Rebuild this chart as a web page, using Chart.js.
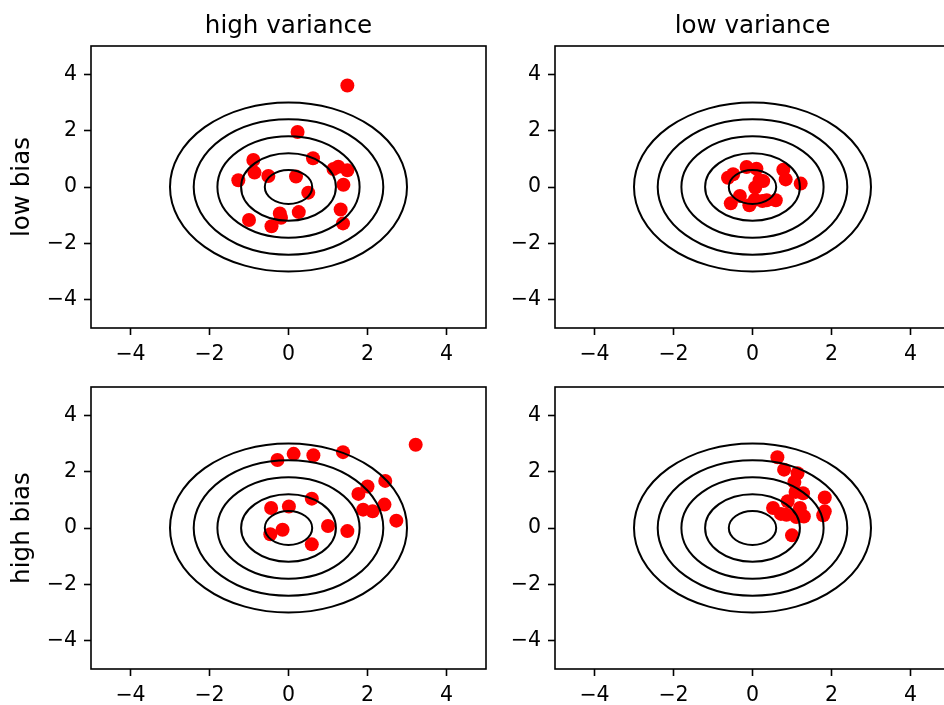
<!DOCTYPE html>
<html>
<head>
<meta charset="utf-8">
<script src="https://cdn.jsdelivr.net/npm/chart.js@4/dist/chart.umd.min.js"></script>
<style>
  html, body { margin: 0; padding: 0; background: #fff; overflow: hidden; }
  body { width: 944px; height: 705px; position: relative; }
  canvas { position: absolute; }
</style>
</head>
<body>
<canvas id="tl"></canvas>
<canvas id="tr"></canvas>
<canvas id="bl"></canvas>
<canvas id="br"></canvas>
<script>
// Data
const COL_TITLES = ['high variance', 'low variance'];
const ROW_LABELS = ['low bias', 'high bias'];
const TICK_VALUES = [-4, -2, 0, 2, 4];
const AXIS_MIN = -5;
const AXIS_MAX = 5;
const RING_RADII = [0.6, 1.2, 1.8, 2.4, 3.0];

// high variance, low bias
const HV_LB_X = [1.49, 0.23, 0.62, -0.89, -0.86, -0.51, -1.27, 0.19, 1.14, 1.26, 1.49, 1.39, 0.50, 0.26, -0.22, -0.19, -1.00, -0.43, 1.32, 1.38];
const HV_LB_Y = [3.60, 1.95, 1.02, 0.96, 0.51, 0.39, 0.24, 0.37, 0.64, 0.72, 0.59, 0.08, -0.20, -0.89, -0.94, -1.09, -1.17, -1.39, -0.80, -1.29];
// low variance, low bias
const LV_LB_X = [-0.49, -0.62, -0.15, 0.10, 0.27, 0.07, 0.78, 0.84, 1.22, -0.32, -0.55, -0.08, 0.25, 0.59, 0.06, 0.18, 0.36];
const LV_LB_Y = [0.45, 0.33, 0.71, 0.65, 0.21, -0.02, 0.61, 0.27, 0.12, -0.32, -0.58, -0.65, -0.50, -0.47, -0.45, 0.24, -0.47];
// high variance, high bias
const HV_HB_X = [3.22, -0.28, 0.13, 0.63, 1.38, 2.45, 2.00, 1.77, 0.59, -0.44, 0.01, 1.89, 2.13, 2.43, 2.73, 1.00, 1.49, -0.15, -0.46, 0.59];
const HV_HB_Y = [2.95, 2.41, 2.63, 2.58, 2.69, 1.67, 1.47, 1.21, 1.04, 0.71, 0.76, 0.65, 0.59, 0.83, 0.26, 0.07, -0.11, -0.06, -0.22, -0.58];
// low variance, high bias
const LV_HB_X = [0.63, 0.80, 1.14, 1.06, 1.28, 1.09, 1.83, 0.89, 0.52, 0.72, 1.20, 1.30, 1.83, 1.79, 1.00, 0.86, 1.11];
const LV_HB_Y = [2.51, 2.07, 1.94, 1.63, 1.23, 1.28, 1.08, 0.95, 0.71, 0.50, 0.71, 0.41, 0.59, 0.45, -0.26, 0.47, 0.39];

// Layout (pixels)
const PLOT_W = 395;
const PLOT_H = 282;
const TICK_FONT = 20.5;
const LABEL_FONT = 24.6;

Chart.defaults.font.family = "'DejaVu Sans', sans-serif";
Chart.defaults.color = '#000';

// rings drawn on top of the points, then the frame
const targetPlugin = {
    id: 'target',
    afterDatasetsDraw(chart) {
        const {ctx, chartArea, scales} = chart;
        const cx = scales.x.getPixelForValue(0);
        const cy = scales.y.getPixelForValue(0);
        ctx.save();
        ctx.beginPath();
        ctx.rect(chartArea.left, chartArea.top, chartArea.right - chartArea.left, chartArea.bottom - chartArea.top);
        ctx.clip();
        ctx.strokeStyle = '#000';
        ctx.lineWidth = 2;
        RING_RADII.forEach(r => {
            const rx = scales.x.getPixelForValue(r) - cx;
            const ry = cy - scales.y.getPixelForValue(r);
            ctx.beginPath();
            ctx.ellipse(cx, cy, rx, ry, 0, 0, Math.PI * 2);
            ctx.stroke();
        });
        ctx.restore();
    },
    afterLayout(chart) {
        // center the title over the plot area, like matplotlib does
        const t = chart.titleBlock;
        if (t) {
            t.left = chart.chartArea.left;
            t.right = chart.chartArea.right;
            t.width = t.right - t.left;
        }
    },
    afterDraw(chart) {
        const {ctx, chartArea} = chart;
        ctx.save();
        ctx.strokeStyle = '#000';
        ctx.lineWidth = 1.6;
        ctx.strokeRect(chartArea.left, chartArea.top, chartArea.right - chartArea.left, chartArea.bottom - chartArea.top);
        ctx.restore();
    }
};

function fixTicks(scale) {
    scale.ticks = TICK_VALUES.map(v => ({value: v}));
}

function makePanel(id, xs, ys, plotLeft, plotTop, title, yLabel) {
    const axisW = yLabel ? 91 : 60;
    const topM = title ? plotTop : 20;
    const rightM = 10;
    const axisH = 40;
    const bottomPad = 5;

    const canvas = document.getElementById(id);
    const w = axisW + PLOT_W + rightM;
    const h = topM + PLOT_H + axisH + bottomPad;
    canvas.width = w;
    canvas.height = h;
    canvas.style.width = w + 'px';
    canvas.style.height = h + 'px';
    canvas.style.left = (plotLeft - axisW) + 'px';
    canvas.style.top = (plotTop - topM) + 'px';

    const tickOpts = {
        font: {size: TICK_FONT},
        padding: 7,
        callback: v => String(v).replace('-', '\u2212')
    };
    const gridOpts = {
        drawOnChartArea: false,
        drawTicks: true,
        tickLength: 7,
        tickWidth: 1.6,
        tickColor: '#000'
    };

    new Chart(canvas, {
        type: 'scatter',
        data: {
            datasets: [{
                data: xs.map((x, i) => ({x: x, y: ys[i]})),
                backgroundColor: '#ff0000',
                borderWidth: 0,
                pointRadius: 7,
                pointHoverRadius: 7
            }]
        },
        options: {
            responsive: false,
            animation: false,
            events: [],
            devicePixelRatio: 1,
            layout: {padding: {left: 0, right: rightM, top: title ? 0 : topM, bottom: bottomPad}},
            plugins: {
                legend: {display: false},
                tooltip: {enabled: false},
                title: {
                    display: !!title,
                    text: title || '',
                    font: {size: LABEL_FONT, weight: 'normal', lineHeight: 1.2},
                    padding: {top: 12, bottom: topM - 12 - LABEL_FONT * 1.2},
                    color: '#000'
                }
            },
            scales: {
                x: {
                    type: 'linear',
                    min: AXIS_MIN,
                    max: AXIS_MAX,
                    afterBuildTicks: fixTicks,
                    ticks: tickOpts,
                    grid: gridOpts,
                    border: {display: false},
                    afterFit(scale) {
                        scale.height = axisH;
                        scale.paddingLeft = 0;
                        scale.paddingRight = 0;
                    }
                },
                y: {
                    type: 'linear',
                    min: AXIS_MIN,
                    max: AXIS_MAX,
                    afterBuildTicks: fixTicks,
                    ticks: tickOpts,
                    grid: gridOpts,
                    border: {display: false},
                    title: {
                        display: !!yLabel,
                        text: yLabel || '',
                        font: {size: LABEL_FONT, lineHeight: 1.2},
                        padding: {top: 8, bottom: 0}
                    },
                    afterFit(scale) {
                        scale.width = axisW;
                        scale.paddingTop = 0;
                        scale.paddingBottom = 0;
                    }
                }
            }
        },
        plugins: [targetPlugin]
    });
}

makePanel('tl', HV_LB_X, HV_LB_Y, 90.5, 46, COL_TITLES[0], ROW_LABELS[0]);
makePanel('tr', LV_LB_X, LV_LB_Y, 554.8, 46, COL_TITLES[1], null);
makePanel('bl', HV_HB_X, HV_HB_Y, 90.5, 387.3, null, ROW_LABELS[1]);
makePanel('br', LV_HB_X, LV_HB_Y, 554.8, 387.3, null, null);
</script>
</body>
</html>
